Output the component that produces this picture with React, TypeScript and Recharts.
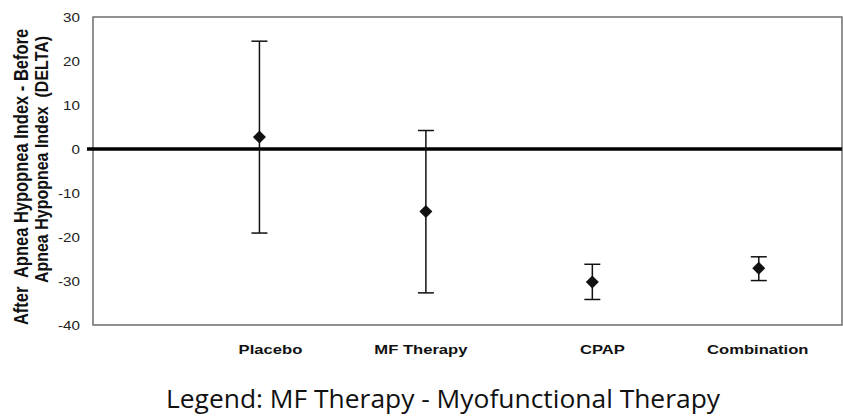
import React from "react";
import {
  ScatterChart,
  Scatter,
  XAxis,
  YAxis,
  ErrorBar,
  ReferenceLine,
  ReferenceArea,
} from "recharts";

// ---- data ----
const categories = ["Placebo", "MF Therapy", "CPAP", "Combination"];
const meanDelta = [2.7, -14.2, -30.2, -27.1];
const upperDelta = [24.5, 4.2, -26.2, -24.5];
const lowerDelta = [-19.1, -32.7, -34.2, -29.9];
const yTicks = [-40, -30, -20, -10, 0, 10, 20, 30];
const xPositions = [1, 2, 3, 4];

const data = categories.map((name, i) => ({
  x: xPositions[i],
  name,
  mean: meanDelta[i],
  err: [meanDelta[i] - lowerDelta[i], upperDelta[i] - meanDelta[i]],
}));

// label nudges (style only)
const labelDx = [11, -5, 10, -1];

const XTick = (props: any) => {
  const { x, payload } = props;
  const i = xPositions.indexOf(payload.value);
  const label = i >= 0 ? categories[i] : "";
  return (
    <g transform={`translate(${x + (labelDx[i] ?? 0)},${354}) scale(1.23,1)`}>
      <text
        x={0}
        y={0}
        textAnchor="middle"
        fontFamily="'Liberation Sans', Arial, sans-serif"
        fontWeight="bold"
        fontSize={13.5}
        fill="#111"
      >
        {label}
      </text>
    </g>
  );
};

const YTick = (props: any) => {
  const { y, payload } = props;
  return (
    <g transform={`translate(80,${y}) scale(1.17,1)`}>
      <text
        x={0}
        y={0}
        dy="0.36em"
        textAnchor="end"
        fontFamily="'Liberation Sans', Arial, sans-serif"
        fontSize={13}
        fill="#222"
      >
        {payload.value}
      </text>
    </g>
  );
};

const Diamond = (props: any) => {
  const { cx, cy } = props;
  const r = 6.5;
  return (
    <polygon
      points={`${cx},${cy - r} ${cx + r},${cy} ${cx},${cy + r} ${cx - r},${cy}`}
      fill="#111"
    />
  );
};

export default function App() {
  return (
    <div
      style={{
        position: "absolute",
        left: 0,
        top: 0,
        width: 843,
        height: 417,
        background: "#fff",
      }}
    >
      <ScatterChart
        width={843}
        height={417}
        margin={{ top: 17, right: 1, bottom: 0, left: 0 }}
      >
        <XAxis
          type="number"
          dataKey="x"
          domain={[0, 4.5]}
          ticks={xPositions}
          height={92}
          axisLine={false}
          tickLine={false}
          tick={<XTick />}
          interval={0}
        />
        <YAxis
          type="number"
          dataKey="mean"
          domain={[-40, 30]}
          ticks={yTicks}
          width={93}
          axisLine={false}
          tickLine={false}
          tick={<YTick />}
          interval={0}
        />
        <ReferenceArea
          x1={0}
          x2={4.5}
          y1={-40}
          y2={30}
          fill="#fff"
          fillOpacity={0}
          stroke="#6e6e6e"
          strokeWidth={1.5}
          ifOverflow="visible"
        />
        <ReferenceLine
          segment={[
            { x: -0.036, y: 0 },
            { x: 4.5, y: 0 },
          ]}
          stroke="#000"
          strokeWidth={3.5}
          ifOverflow="visible"
        />
        <Scatter
          data={data}
          dataKey="mean"
          shape={<Diamond />}
          isAnimationActive={false}
        >
          <ErrorBar
            dataKey="err"
            direction="y"
            width={8}
            stroke="#111"
            strokeWidth={1.5}
            isAnimationActive={false}
          />
        </Scatter>
      </ScatterChart>
      <svg
        width={843}
        height={417}
        style={{ position: "absolute", left: 0, top: 0, pointerEvents: "none" }}
      >
        <g transform="translate(28,177) scale(1.18,1) rotate(-90)">
          <text
            x={0}
            y={0}
            textAnchor="middle"
            fontFamily="'Liberation Sans', Arial, sans-serif"
            fontWeight="bold"
            fontSize={16.5}
            fill="#111"
            style={{ whiteSpace: "pre" }}
          >
            {"After  Apnea Hypopnea Index - Before"}
          </text>
        </g>
        <g transform="translate(48,159.5) scale(1.18,1) rotate(-90)">
          <text
            x={0}
            y={0}
            textAnchor="middle"
            fontFamily="'Liberation Sans', Arial, sans-serif"
            fontWeight="bold"
            fontSize={16}
            fill="#111"
            style={{ whiteSpace: "pre" }}
          >
            {"Apnea Hypopnea Index  (DELTA)"}
          </text>
        </g>
        <text
          x={443}
          y={408}
          textAnchor="middle"
          fontFamily="'Open Sans', 'Noto Sans', sans-serif"
          fontSize={26}
          fill="#111"
          textLength={554}
          lengthAdjust="spacingAndGlyphs"
        >
          Legend: MF Therapy - Myofunctional Therapy
        </text>
      </svg>
    </div>
  );
}
